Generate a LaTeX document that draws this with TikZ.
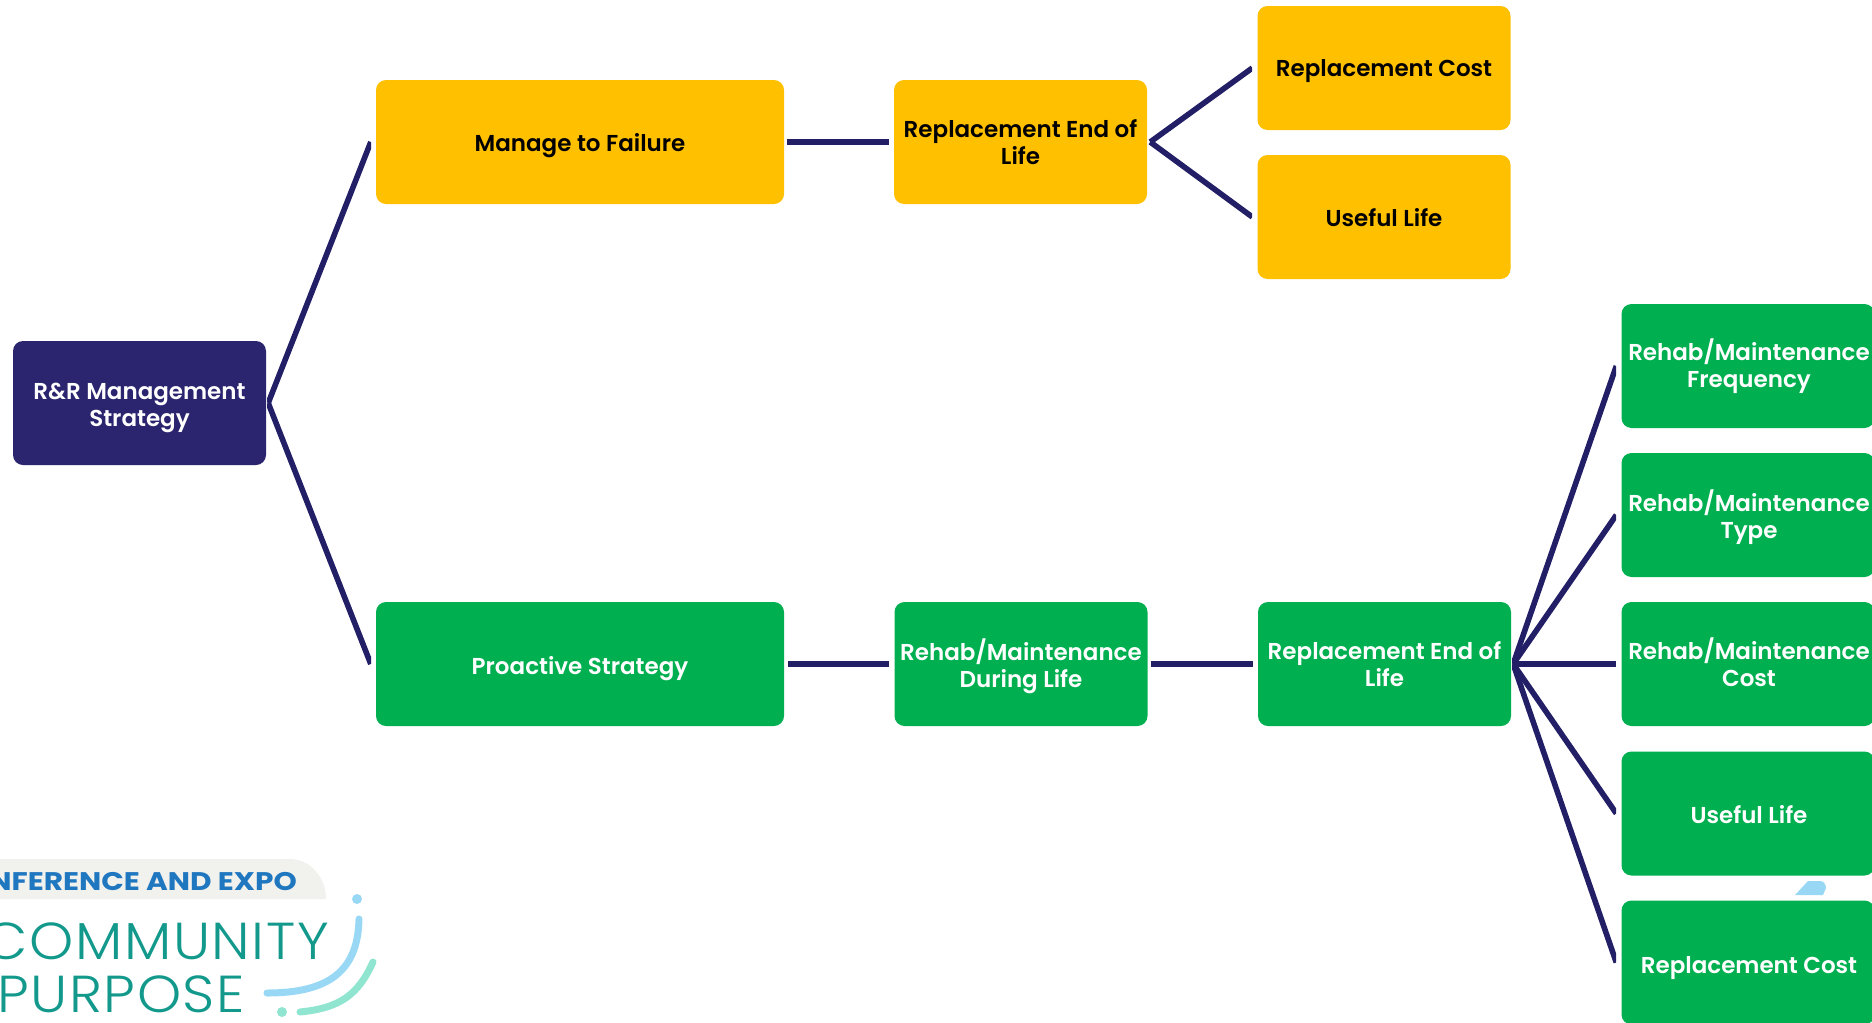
\documentclass[tikz,border=0pt]{standalone}
\usepackage{fontspec}
\setmainfont{Poppins SemiBold}
\newfontfamily\logolight{Poppins Light}[FakeStretch=1.08,LetterSpace=3]
\newfontfamily\logobold{Poppins Bold}[FakeStretch=1.16]
\usetikzlibrary{calc}
\definecolor{gold}{HTML}{FFC000}
\definecolor{grn}{HTML}{00B050}
\definecolor{navy}{HTML}{2B256F}
\definecolor{linec}{HTML}{231F66}
\definecolor{teal2}{HTML}{12998C}
\definecolor{tabgrey}{HTML}{F1F1ED}
\definecolor{expoblue}{HTML}{1F77C0}
\definecolor{swblue}{HTML}{99D8F5}
\definecolor{swgreen}{HTML}{8FE5D0}
\tikzset{
 card/.style={rounded corners=10pt,inner sep=0pt,minimum height=124pt},
 std/.style={card,minimum width=253pt},
 wide/.style={card,minimum width=408pt},
 yellowc/.style={fill=gold},
 greenc/.style={fill=grn},
 navyc/.style={fill=navy},
 txtk/.style 2 args={label={[inner sep=0pt,align=center,text=black,yshift=-#1pt,font=\fontsize{23}{27}\selectfont]center:{#2}}},
 txtw/.style 2 args={label={[inner sep=0pt,align=center,text=white,yshift=-#1pt,font=\fontsize{23}{27}\selectfont]center:{#2}}},
 conn/.style={draw=linec,line width=5.6pt,line cap=square},
 swoosh/.style={line width=7pt,line cap=round},
}
\begin{document}
\begin{tikzpicture}[x=1pt,y=-1pt]
\useasboundingbox (0,0) rectangle (1872,1023);
\clip (0,0) rectangle (1872,1023);
% logo
\fill[tabgrey] (-20,859) -- (290,859) arc[start angle=90,end angle=0,x radius=36pt,y radius=40pt] -- (-20,899) -- cycle;
\node[anchor=base east,inner sep=0pt,text=expoblue,font=\logobold\fontsize{25.5}{26}\selectfont] (expo) at (297,890) {CONFERENCE AND EXPO};
\node[anchor=base east,inner sep=0pt,text=teal2,font=\logolight\fontsize{52}{52}\selectfont] (community) at (329,959) {COMMUNITY};
\node[anchor=base east,inner sep=0pt,text=teal2,font=\logolight\fontsize{52}{52}\selectfont] (purpose) at (245,1012) {PURPOSE};
\draw[swoosh,swblue] (359,919) .. controls (358,970) and (330,993) .. (267,993);
\draw[swoosh,swgreen] (373,962) .. controls (358,995) and (340,1008) .. (300,1012);
\fill[swblue] (357,899) circle[radius=5pt];
\fill[swgreen] (282,1012) circle[radius=5pt];
\fill[swblue] (1795,895) -- (1808,881) -- (1820,881) to[out=0,in=90] (1826,888) -- (1823,895) -- cycle;
% nodes
\node[std,navyc,txtw={4.5}{R\&R Management\\Strategy}] (root) at (139.5,403) {};
\node[wide,yellowc,txtk={3.5}{Manage to Failure}] (manage) at (580,142) {};
\node[std,yellowc,txtk={0}{Replacement End of\\Life}] (endA) at (1020.5,142) {};
\node[std,yellowc,txtk={3.5}{Replacement Cost}] (costA) at (1384,68) {};
\node[std,yellowc,txtk={1}{Useful Life}] (lifeA) at (1384,217) {};
\node[wide,greenc,txtw={4.5}{Proactive Strategy}] (proactive) at (580,664) {};
\node[std,greenc,txtw={2}{Rehab/Maintenance\\During Life}] (during) at (1021,664) {};
\node[std,greenc,txtw={0.5}{Replacement End of\\Life}] (endB) at (1384.5,664) {};
\begin{scope}[every label/.append style={xshift=1pt}]
\node[std,greenc,txtw={0.5}{Rehab/Maintenance\\Frequency}] (freq) at (1748,366) {};
\node[std,greenc,txtw={2}{Rehab/Maintenance\\Type}] (type) at (1748,515) {};
\node[std,greenc,txtw={-2}{Rehab/Maintenance\\Cost}] (cost) at (1748,664) {};
\node[std,greenc,txtw={1}{Useful Life}] (life) at (1748,813.5) {};
\node[std,greenc,txtw={5.5}{Replacement Cost}] (repl) at (1748,962.5) {};
\end{scope}
% connectors, cut square at both ends
\begin{scope}
\clip (267,0) rectangle (371,1023);
\draw[conn] ($(root.east)+(2,0)$) -- ($(manage.west)+(-5,0)$);
\draw[conn] ($(root.east)+(2,0)$) -- ($(proactive.west)+(-5,0)$);
\end{scope}
\draw[conn,line cap=butt] ($(manage.east)+(3,0)$) -- ($(endA.west)+(-5,0)$);
\draw[conn,line cap=butt] ($(proactive.east)+(4,0)$) -- ($(during.west)+(-5,0)$);
\draw[conn,line cap=butt] ($(during.east)+(3,0)$) -- ($(endB.west)+(-5,0)$);
\begin{scope}
\clip (1148,0) rectangle (1252,1023);
\draw[conn] ($(endA.east)+(3,0)$) -- ($(costA.west)+(-5,0)$);
\draw[conn] ($(endA.east)+(3,0)$) -- ($(lifeA.west)+(-5,0)$);
\end{scope}
\begin{scope}
\clip (1512,0) rectangle (1616,1023);
\foreach \t in {freq,type,cost,life,repl}
  \draw[conn] ($(endB.east)+(2,0)$) -- ($(\t.west)+(-5,0)$);
\end{scope}
\end{tikzpicture}
\end{document}
